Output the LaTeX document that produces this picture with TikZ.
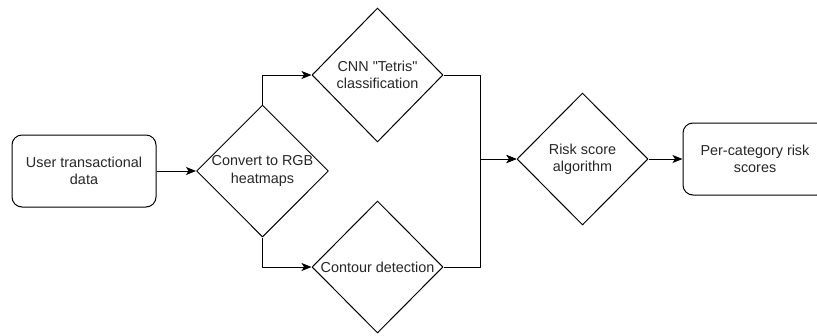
\documentclass[tikz,border=0pt]{standalone}
\usepackage{fontspec}
\setmainfont{Liberation Sans}[Ligatures=TeXOff]
\usetikzlibrary{shapes.geometric,arrows.meta}
\begin{document}
\begin{tikzpicture}[x=1pt,y=-1pt,line join=round,line width=1pt,
		font=\fontsize{14.4}{17.3}\selectfont,
		box/.style={draw,rounded corners=10pt,minimum width=144pt,minimum height=72pt,align=center,text=black!85},
		decision/.style={draw,diamond,inner sep=0pt,minimum width=131pt,minimum height=132pt,align=center,text=black!85},
		flow/.style={-{Stealth[length=10pt,width=8pt,inset=2.5pt]}}]
	\useasboundingbox (0,0) rectangle (817,335);
	\node[box] (data) at (84,171) {User transactional\\data};
	\node[decision] (rgb) at (262.5,171) {Convert to RGB\\heatmaps};
	\node[decision,minimum height=134pt] (cnn) at (377.5,75) {CNN "Tetris"\\classification};
	\node[decision] (contour) at (377.5,267) {Contour detection};
	\node[decision] (risk) at (582.5,159) {Risk score\\algorithm};
	\node[box] (scores) at (755,159) {Per-category risk\\scores};
	\coordinate (join) at (480,159);
	\draw[flow] (data) -- (rgb);
	\draw[flow] (rgb.north) |- (cnn.west);
	\draw[flow] (rgb.south) |- (contour.west);
	\draw[flow] (cnn.east) -| (join) -- (risk.west);
	\draw[flow] (contour.east) -| (join) -- (risk.west);
	\draw[flow] (risk) -- (scores);
\end{tikzpicture}
\end{document}
